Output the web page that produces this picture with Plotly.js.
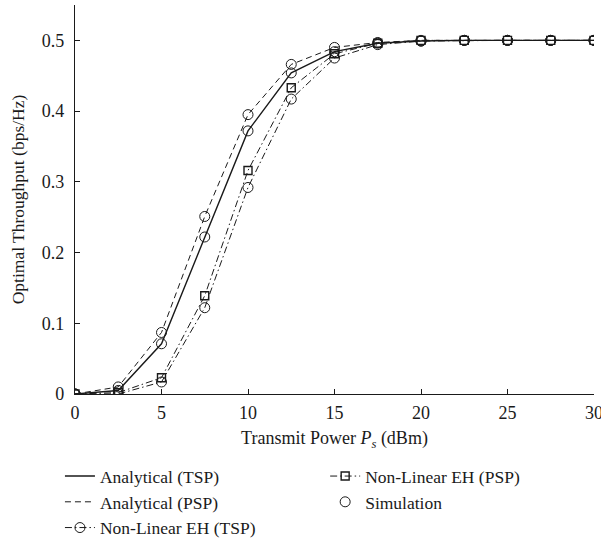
<!DOCTYPE html>
<html>
<head>
<meta charset="utf-8">
<script src="https://cdn.plot.ly/plotly-3.0.1.min.js"></script>
<style>html,body{margin:0;padding:0;background:#fff;}#chart{width:601px;height:539px;}</style>
</head>
<body>
<div id="chart"></div>
<script>
var powerDbm = [0, 2.5, 5, 7.5, 10, 12.5, 15, 17.5, 20, 22.5, 25, 27.5, 30];
var analyticalTSP = [0, 0.005, 0.071, 0.222, 0.372, 0.454, 0.484, 0.496, 0.499, 0.5, 0.5, 0.5, 0.5];
var analyticalPSP = [0, 0.010, 0.087, 0.251, 0.395, 0.466, 0.490, 0.497, 0.5, 0.5, 0.5, 0.5, 0.5];
var nonLinearTSP = [0, 0.0, 0.017, 0.122, 0.292, 0.417, 0.475, 0.494, 0.499, 0.5, 0.5, 0.5, 0.5];
var nonLinearPSP = [0, 0.002, 0.023, 0.139, 0.316, 0.433, 0.481, 0.496, 0.5, 0.5, 0.5, 0.5, 0.5];
var simulationTSP = [0, 0.005, 0.071, 0.222, 0.372, 0.454, 0.484, 0.496, 0.499, 0.5, 0.5, 0.5, 0.5];
var simulationPSP = [0, 0.010, 0.087, 0.251, 0.395, 0.466, 0.490, 0.497, 0.5, 0.5, 0.5, 0.5, 0.5];
var xTicks = [0, 5, 10, 15, 20, 25, 30];
var yTicks = [0, 0.1, 0.2, 0.3, 0.4, 0.5];
var yTickText = ['0', '0.1', '0.2', '0.3', '0.4', '0.5'];

var FONT = 'Liberation Serif, Times New Roman, serif';
var INK = '#1a1a1a';
var circ = {symbol: 'circle-open', size: 10, color: INK, line: {width: 1, color: INK}};
var sq = {symbol: 'square-open', size: 8, color: INK, line: {width: 1.4, color: INK}};
var dashDot = '7px,3px,1.5px,3px';

var traces = [
  {x: powerDbm, y: analyticalTSP, mode: 'lines', name: 'Analytical (TSP)',
   line: {color: INK, width: 1.4}, legend: 'legend'},
  {x: powerDbm, y: analyticalPSP, mode: 'lines', name: 'Analytical (PSP)',
   line: {color: INK, width: 1, dash: '6px,4px'}, legend: 'legend'},
  {x: powerDbm, y: nonLinearTSP, mode: 'lines+markers', name: 'Non-Linear EH (TSP)',
   line: {color: INK, width: 1, dash: dashDot}, marker: circ, legend: 'legend'},
  {x: powerDbm, y: nonLinearPSP, mode: 'lines+markers', name: 'Non-Linear EH (PSP)',
   line: {color: INK, width: 1, dash: dashDot}, marker: sq, legend: 'legend2'},
  {x: powerDbm, y: simulationTSP, mode: 'markers', name: 'Simulation', marker: circ, legend: 'legend2'},
  {x: powerDbm, y: simulationPSP, mode: 'markers', name: 'Simulation', marker: circ,
   showlegend: false, legend: 'legend2'}
];

var legendBase = {
  orientation: 'v', xref: 'paper', yref: 'paper',
  xanchor: 'left', yanchor: 'top',
  font: {size: 17.5, family: FONT}, bgcolor: 'rgba(0,0,0,0)', itemwidth: 30,
  traceorder: 'normal', tracegroupgap: 0
};

var layout = {
  width: 601, height: 539,
  margin: {l: 75, r: 7, t: 5, b: 145, autoexpand: false},
  paper_bgcolor: '#fff', plot_bgcolor: '#fff',
  font: {family: FONT, size: 18, color: INK},
  showlegend: true,
  xaxis: {
    range: [0, 30], tickvals: xTicks, automargin: false,
    ticks: 'inside', ticklen: 5, tickcolor: INK, showline: true, linecolor: INK, linewidth: 1.2,
    showgrid: false, zeroline: false, tickfont: {size: 18}, ticklabeloverflow: 'allow',
    ticklabelstandoff: 2,
    title: {text: 'Transmit Power <i>P<sub>s</sub></i> (dBm)', font: {size: 18}, standoff: 9}
  },
  yaxis: {
    range: [0, 0.55], tickvals: yTicks, ticktext: yTickText, automargin: false,
    ticks: 'inside', ticklen: 5, tickcolor: INK, showline: true, linecolor: INK, linewidth: 1.2,
    showgrid: false, zeroline: false, tickfont: {size: 18}, ticklabelstandoff: 6,
    title: {text: 'Optimal Throughput (bps/Hz)', font: {size: 17.5}, standoff: 12}
  },
  legend: Object.assign({}, legendBase, {x: -0.029, y: -0.165}),
  legend2: Object.assign({}, legendBase, {x: 0.482, y: -0.165})
};

Plotly.newPlot('chart', traces, layout, {displayModeBar: false, staticPlot: true});
</script>
</body>
</html>
